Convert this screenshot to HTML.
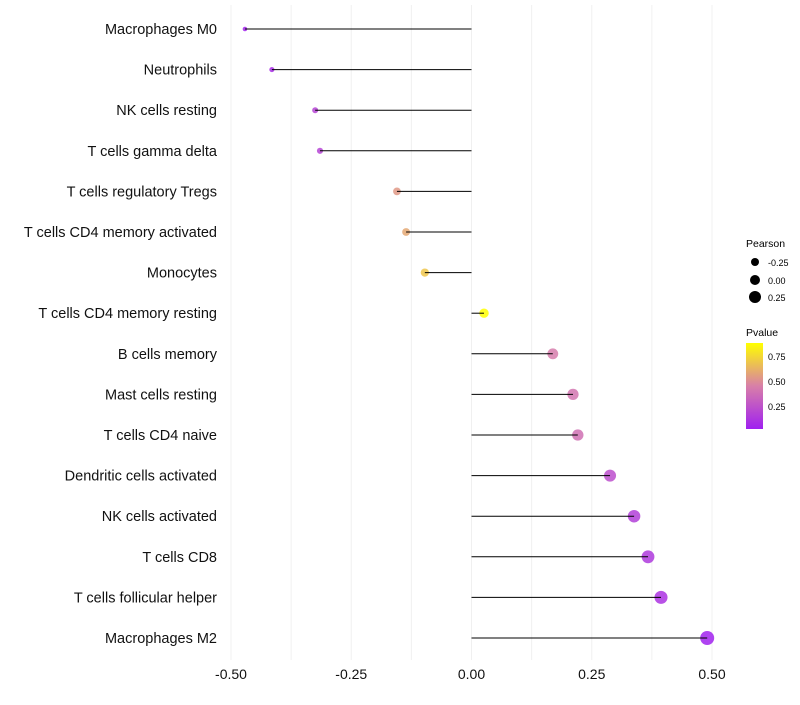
<!DOCTYPE html>
<html><head><meta charset="utf-8"><style>
body{margin:0;background:#fff;font-family:"Liberation Sans",sans-serif}
</style></head><body>
<svg id="chart" width="800" height="700" xmlns="http://www.w3.org/2000/svg" font-family="Liberation Sans, sans-serif">
<defs><linearGradient id="pg" x1="0" y1="1" x2="0" y2="0">
<stop offset="0" stop-color="#a020f0"/><stop offset="0.5" stop-color="#d87fa8"/><stop offset="1" stop-color="#ffff00"/>
</linearGradient></defs>
<g id="grid"></g><g id="dots"></g><g id="marks"></g><g id="labels"></g><g id="ticks"></g>
<g>
<text x="746" y="247" font-size="10.5">Pearson</text>
<circle cx="755" cy="262" r="4" fill="#000"/><text x="768" y="266" font-size="9">-0.25</text>
<circle cx="755" cy="280" r="5" fill="#000"/><text x="768" y="284" font-size="9">0.00</text>
<circle cx="755" cy="297" r="6" fill="#000"/><text x="768" y="301" font-size="9">0.25</text>
<text x="746" y="336" font-size="10.5">Pvalue</text>
<rect x="746" y="343" width="17" height="86" fill="url(#pg)"/>
<text x="768" y="360" font-size="9">0.75</text>
<text x="768" y="385" font-size="9">0.50</text>
<text x="768" y="410" font-size="9">0.25</text>
</g>
</svg>
<script>
const categories=["Macrophages M0","Neutrophils","NK cells resting","T cells gamma delta","T cells regulatory  Tregs ","T cells CD4 memory activated","Monocytes","T cells CD4 memory resting","B cells memory","Mast cells resting","T cells CD4 naive","Dendritic cells activated","NK cells activated","T cells CD8","T cells follicular helper","Macrophages M2"];
const pearson=[-0.471,-0.415,-0.325,-0.315,-0.155,-0.136,-0.097,0.026,0.169,0.211,0.221,0.288,0.338,0.367,0.394,0.49];
const pvalue=[0.06,0.1,0.2,0.2,0.55,0.6,0.7,0.89,0.45,0.42,0.4,0.25,0.18,0.15,0.12,0.05];
const xTicks=[-0.5,-0.25,0,0.25,0.5];
const xTickLabels=["-0.50","-0.25","0.00","0.25","0.50"];
const NS="http://www.w3.org/2000/svg";
const x=v=>471.5+v*481;
const y=i=>29+i*40.6;
const r=p=>Math.max(2,4.6+4.9*p);
function mix(a,b,t){return a.map((c,k)=>Math.round(c+(b[k]-c)*t));}
function col(p){const t=(p-0.04)/0.85;const lo=[160,32,240],mid=[216,127,168],hi=[255,255,0];
let c=t<0.5?mix(lo,mid,Math.max(0,t)/0.5):mix(mid,hi,Math.min(1,(t-0.5)/0.5));return `rgb(${c})`;}
function el(t,a,parent){const e=document.createElementNS(NS,t);for(const k in a)e.setAttribute(k,a[k]);document.getElementById(parent).appendChild(e);return e;}
for(let v=-0.5;v<=0.5001;v+=0.125){
const g=el('line',{x1:x(v),x2:x(v),y1:5,y2:660,stroke:'#f0f0f0','stroke-width':1},'grid');

}
xTicks.forEach((v,i)=>{const t=el('text',{x:x(v),y:679,'font-size':14,'text-anchor':'middle',fill:'#111'},'ticks');t.textContent=xTickLabels[i];

});
categories.forEach((c,i)=>{
const t=el('text',{x:217,y:y(i)+5,'font-size':14.5,'text-anchor':'end',fill:'#111'},'labels');t.textContent=c;


const d=el('circle',{cx:x(pearson[i]),cy:y(i),r:r(pearson[i]),fill:col(pvalue[i]),'fill-opacity':0.85},'dots');


const l=el('line',{x1:x(0),x2:x(pearson[i]),y1:y(i),y2:y(i),stroke:'#000','stroke-width':1},'marks');


});
</script>
</body></html>
